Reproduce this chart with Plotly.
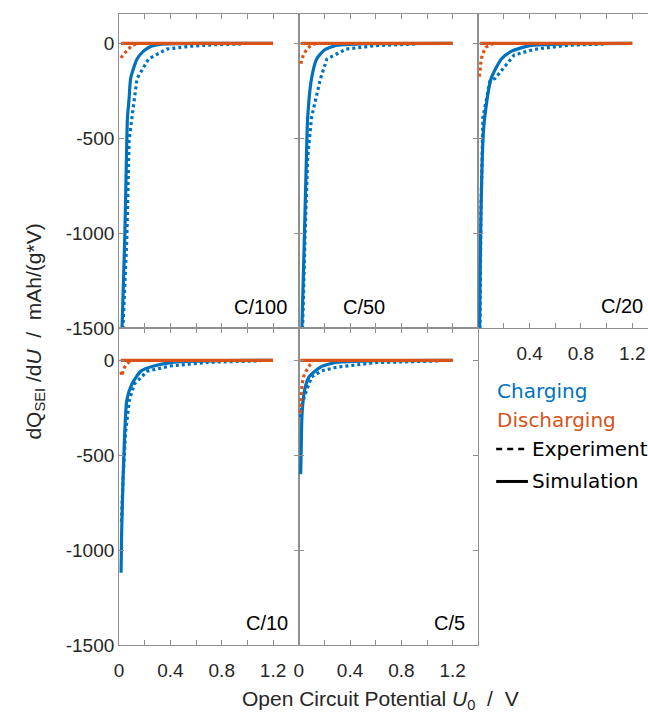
import plotly.graph_objects as go

W, H = 648, 714
BLUE = "#0072BD"
ORANGE = "#D95319"
AXC = "#8f8f8f"
TXT = "#262626"

panel_labels = ["C/100", "C/50", "C/20", "C/10", "C/5"]

# Experiment (dotted) and simulation (solid) curves: x = U0 [V], y = dQ_SEI/dU [mAh/(g*V)]
exp_chg_x = [
    [0.028, 0.03, 0.06, 0.078, 0.10, 0.14, 0.23, 0.37, 0.56, 0.75, 0.95],
    [0.028, 0.03, 0.05, 0.07, 0.10, 0.17, 0.22, 0.37, 0.60, 0.92],
    [0.012, 0.02, 0.036, 0.09, 0.13, 0.28, 0.44, 0.70, 0.98],
    [0.018, 0.02, 0.03, 0.05, 0.08, 0.12, 0.22, 0.40, 0.70, 1.10],
    [0.013, 0.03, 0.06, 0.10, 0.18, 0.30, 0.60, 1.10],
]
exp_chg_y = [
    [-1600, -1500, -1030, -510, -390, -185, -82, -30, -15, -7, -3],
    [-1600, -1500, -1000, -600, -390, -185, -82, -30, -12, -3],
    [-1600, -900, -390, -200, -185, -61, -31, -10, -3],
    [-850, -800, -640, -380, -210, -124, -57, -30, -10, -3],
    [-300, -220, -160, -88, -55, -36, -12, -3],
]
sim_chg_x = [
    [0.020, 0.023, 0.044, 0.060, 0.065, 0.078, 0.090, 0.14, 0.19, 0.25, 0.33, 0.5, 0.8, 1.2],
    [0.02, 0.025, 0.045, 0.06, 0.07, 0.10, 0.14, 0.20, 0.30, 0.50, 1.2],
    [0.008, 0.01, 0.018, 0.027, 0.037, 0.05, 0.10, 0.18, 0.26, 0.40, 0.70, 1.2],
    [0.015, 0.02, 0.03, 0.044, 0.06, 0.10, 0.17, 0.27, 0.45, 0.80, 1.2],
    [0.015, 0.02, 0.025, 0.045, 0.08, 0.17, 0.30, 0.60, 1.2],
]
sim_chg_y = [
    [-1600, -1500, -1030, -510, -390, -290, -185, -82, -41, -15, -4, -1, 0, 0],
    [-1600, -1500, -1000, -600, -390, -185, -82, -35, -10, -2, 0],
    [-1600, -1500, -1000, -700, -500, -390, -185, -82, -41, -12, -2, 0],
    [-1120, -900, -640, -380, -210, -124, -57, -30, -8, -1, 0],
    [-600, -450, -294, -160, -88, -36, -10, -2, 0],
]
exp_dis_x = [
    [0.015, 0.03, 0.06, 0.10, 0.15],
    [0.018, 0.022, 0.04, 0.07, 0.10, 0.14],
    [0.008, 0.01, 0.02, 0.03, 0.06, 0.12],
    [0.015, 0.02, 0.04, 0.06, 0.09],
    [0.013, 0.026, 0.044, 0.078, 0.11],
]
exp_dis_y = [
    [-77, -60, -40, -10, 0],
    [-108, -90, -55, -25, -8, 0],
    [-175, -150, -100, -60, -20, 0],
    [-60, -82, -40, -20, 0],
    [-278, -124, -72, -31, 0],
]
sim_dis_x = [[0.015, 1.2], [0.015, 1.2], [0.012, 1.2], [0.012, 1.2], [0.012, 1.2]]
sim_dis_y = [[0, 0], [0, 0], [0, 0], [0, 0], [0, 0]]

x_ticks = [0, 0.2, 0.4, 0.6, 0.8, 1.0, 1.2]
y_ticks = [0, -500, -1000, -1500]


def px(x):
    return x / W


def py(y):
    return 1 - y / H


# panel geometry (pixels)
X0, PW = 115, 181
TOP_ROW = (14, 333)
BOT_ROW = (333, 655)
panels = [
    (X0, X0 + PW, TOP_ROW, 156),
    (X0 + PW, X0 + 2 * PW, TOP_ROW, 156),
    (X0 + 2 * PW, W, TOP_ROW, 156),
    (X0, X0 + PW, BOT_ROW, 171),
    (X0 + PW, X0 + 2 * PW, BOT_ROW, 171),
]
XMAX = 1.4

fig = go.Figure()
layout = dict(
    width=W, height=H, margin=dict(l=0, r=0, t=0, b=0),
    plot_bgcolor="white", paper_bgcolor="white", showlegend=False,
    font=dict(family="Liberation Sans, Arial", size=19, color=TXT),
)

for i in range(5):
    xa = "x" if i == 0 else f"x{i+1}"
    ya = "y" if i == 0 else f"y{i+1}"
    fig.add_trace(go.Scatter(x=exp_chg_x[i], y=exp_chg_y[i], mode="lines", xaxis=xa, yaxis=ya,
                             line=dict(color=BLUE, width=3.2, dash="3px,3px")))
    fig.add_trace(go.Scatter(x=sim_chg_x[i], y=sim_chg_y[i], mode="lines", xaxis=xa, yaxis=ya,
                             line=dict(color=BLUE, width=3.2, shape="spline", smoothing=0.6)))
    fig.add_trace(go.Scatter(x=exp_dis_x[i], y=exp_dis_y[i], mode="lines", xaxis=xa, yaxis=ya,
                             line=dict(color=ORANGE, width=3.2, dash="3px,3px")))
    fig.add_trace(go.Scatter(x=sim_dis_x[i], y=sim_dis_y[i], mode="lines", xaxis=xa, yaxis=ya,
                             line=dict(color=ORANGE, width=3.2)))

    x_left, x_right, (y_top, y_bot), ymax = panels[i]
    xr = XMAX * (x_right - x_left) / PW
    if i in (3, 4):
        xt = ["0", "", "0.4", "", "0.8", "", "1.2"]
    elif i == 2:
        xt = ["", "", "0.4", "", "0.8", "", "1.2"]
    else:
        xt = [""] * 7
    xkey = "xaxis" if i == 0 else f"xaxis{i+1}"
    ykey = "yaxis" if i == 0 else f"yaxis{i+1}"
    layout[xkey] = dict(
        domain=[px(x_left), px(x_right)], range=[0, xr], anchor=ya,
        tickvals=x_ticks, ticktext=xt, ticks="inside", ticklen=5, tickcolor=AXC,
        showline=True, linecolor=AXC, linewidth=1, mirror="ticks",
        showgrid=False, zeroline=False, tickfont=dict(size=19, color=TXT),
        ticklabelstandoff=8,
    )
    layout[ykey] = dict(
        domain=[py(y_bot), py(y_top)], range=[-1500, ymax], anchor=xa,
        tickvals=y_ticks, ticktext=[str(v) for v in y_ticks], ticks="inside", ticklen=5,
        tickcolor=AXC, showline=True, linecolor=AXC, linewidth=1,
        mirror=("ticks" if i != 2 else False), showticklabels=(i in (0, 3)),
        showgrid=False, zeroline=False, tickfont=dict(size=19, color=TXT),
    )

fig.update_layout(**layout)

# panel labels
label_pos = [(286, 312), (385, 312), (645, 311), (287, 633), (466, 633)]
for lab, (lx, ly) in zip(panel_labels, label_pos):
    fig.add_annotation(x=px(lx), y=py(ly), xref="paper", yref="paper", text=lab,
                       showarrow=False, xanchor="right", yanchor="middle",
                       font=dict(size=20, color="black"))

# axis titles
fig.add_annotation(x=px(30), y=py(337), xref="paper", yref="paper",
                   text="dQ<sub>SEI</sub> /d<i>U</i>  /  mAh/(g*V)", textangle=-90,
                   showarrow=False, xanchor="center", yanchor="middle",
                   font=dict(size=21, color=TXT))
fig.add_annotation(x=px(378), y=py(711), xref="paper", yref="paper",
                   text="Open Circuit Potential <i>U</i><sub>0</sub>  /  V",
                   showarrow=False, xanchor="center", yanchor="middle",
                   font=dict(size=21, color=TXT))

# custom legend
LEGF = "DejaVu Sans"
fig.add_annotation(x=px(494), y=py(397), xref="paper", yref="paper", text="Charging",
                   showarrow=False, xanchor="left", yanchor="middle",
                   font=dict(family=LEGF, size=20, color=BLUE))
fig.add_annotation(x=px(494), y=py(427), xref="paper", yref="paper", text="Discharging",
                   showarrow=False, xanchor="left", yanchor="middle",
                   font=dict(family=LEGF, size=20, color=ORANGE))
fig.add_annotation(x=px(529), y=py(456), xref="paper", yref="paper", text="Experiment",
                   showarrow=False, xanchor="left", yanchor="middle",
                   font=dict(family=LEGF, size=20, color="black"))
fig.add_annotation(x=px(529), y=py(489), xref="paper", yref="paper", text="Simulation",
                   showarrow=False, xanchor="left", yanchor="middle",
                   font=dict(family=LEGF, size=20, color="black"))
fig.add_shape(type="line", xref="paper", yref="paper", x0=px(495), x1=px(527),
              y0=py(456), y1=py(456), line=dict(color="black", width=2.5, dash="6px,5px"))
fig.add_shape(type="line", xref="paper", yref="paper", x0=px(495), x1=px(527),
              y0=py(489), y1=py(489), line=dict(color="black", width=3))

fig.write_html("out.html")
